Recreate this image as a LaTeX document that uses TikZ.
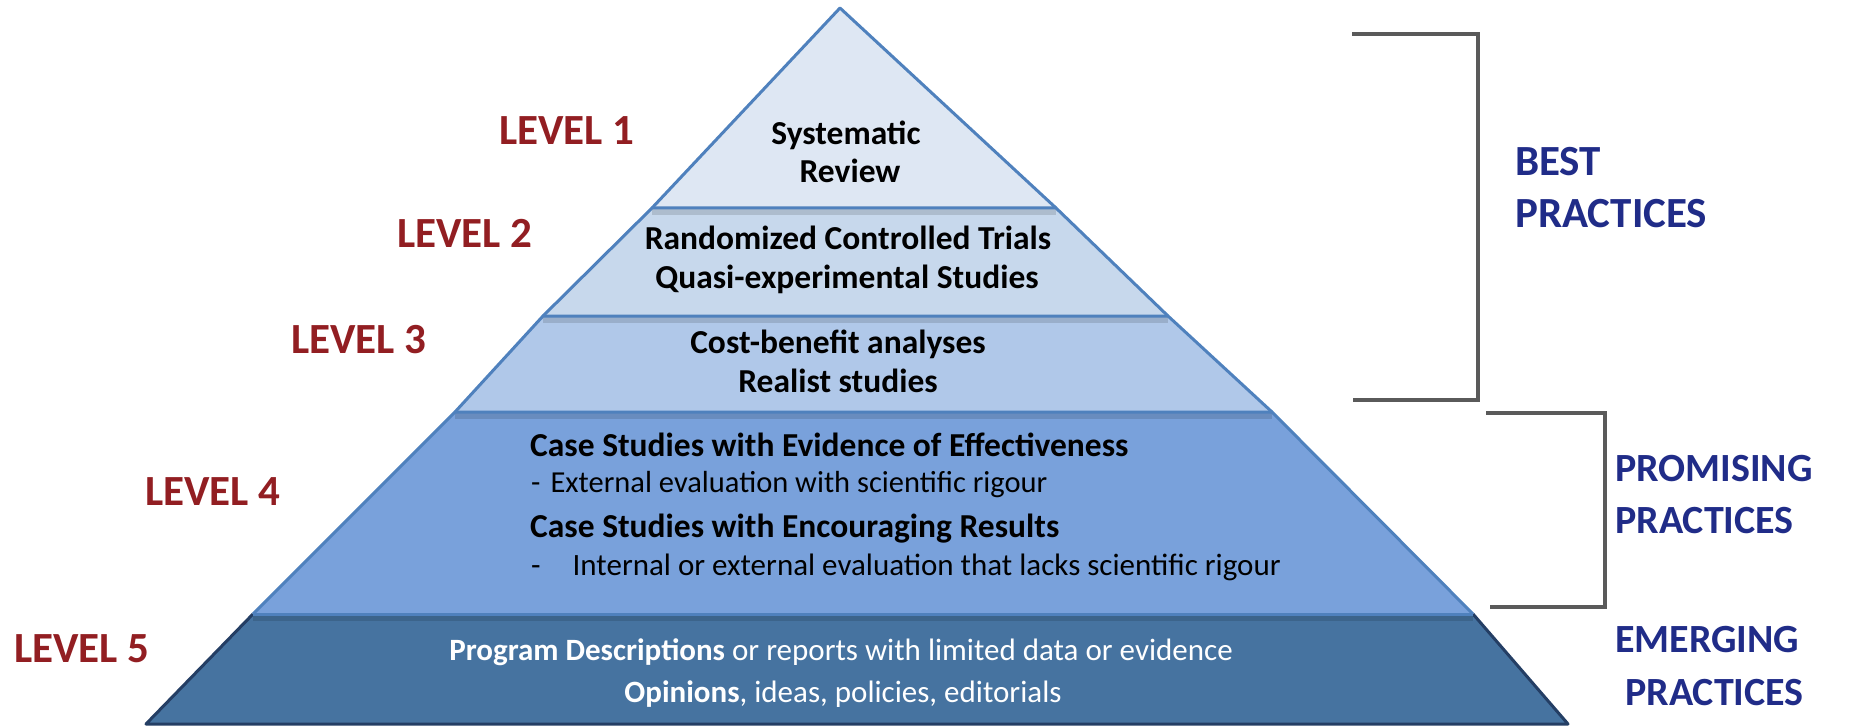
\documentclass[tikz,border=0pt]{standalone}
\usepackage{fontspec}
\setmainfont{Carlito}
\definecolor{lvred}{RGB}{146,30,34}
\definecolor{navy}{RGB}{32,44,136}
\definecolor{edge}{RGB}{79,129,189}
\definecolor{fillA}{RGB}{222,231,243}
\definecolor{fillB}{RGB}{199,216,236}
\definecolor{fillC}{RGB}{176,200,233}
\definecolor{fillD}{RGB}{121,161,219}
\definecolor{fillE}{RGB}{70,115,160}
\definecolor{edgeE}{RGB}{36,62,100}
\definecolor{brk}{RGB}{90,90,90}
\begin{document}
\begin{tikzpicture}[x=1pt,y=-1pt,
  lvl/.style={font=\fontsize{43}{50}\selectfont\bfseries, text=lvred, inner sep=0pt, anchor=base},
  prac/.style={font=\fontsize{40}{48}\selectfont\bfseries, text=navy, inner sep=0pt, anchor=base west},
  ptxt/.style={font=\fontsize{33.5}{40}\selectfont\bfseries, inner sep=0pt, anchor=base},
  ltxt/.style={font=\fontsize{30.5}{37}\selectfont, inner sep=0pt, anchor=base west},
  btxt/.style={font=\fontsize{33.5}{40}\selectfont\bfseries, inner sep=0pt, anchor=base west},
  wtxt/.style={font=\fontsize{31}{37}\selectfont, text=white, inner sep=0pt, anchor=base},
  layeredge/.style={draw=edge, line width=3pt, line join=round},
  shadow/.style={line width=6pt, black, opacity=0.13},
  bracket/.style={draw=brk, line width=4pt}
]
\useasboundingbox (0,0) rectangle (1860,727);
% corner coordinates
\coordinate (apex) at (840,8);
\coordinate (l1) at (652,208); \coordinate (r1) at (1056,208);
\coordinate (l2) at (543,316); \coordinate (r2) at (1168,316);
\coordinate (l3) at (455,412); \coordinate (r3) at (1272,412);
\coordinate (l4) at (253,614); \coordinate (r4) at (1473,614);
\coordinate (l5) at (146,724); \coordinate (r5) at (1568,724);
% fills
\fill[fillE] (l4) -- (r4) -- (r5) -- (l5) -- cycle;
\fill[fillD] (l3) -- (r3) -- (r4) -- (l4) -- cycle;
\fill[fillC] (l2) -- (r2) -- (r3) -- (l3) -- cycle;
\fill[fillB] (l1) -- (r1) -- (r2) -- (l2) -- cycle;
\fill[fillA] (apex) -- (r1) -- (l1) -- cycle;
% shadows under the layer tops
\begin{scope}
\clip (apex) -- (r1) -- (r2) -- (r3) -- (r4) -- (r5) -- (l5) -- (l4) -- (l3) -- (l2) -- (l1) -- cycle;
\draw[shadow] ([yshift=-4pt]l1) -- ([yshift=-4pt]r1);
\draw[shadow] ([yshift=-4pt]l2) -- ([yshift=-4pt]r2);
\draw[shadow] ([yshift=-4pt]l3) -- ([yshift=-4pt]r3);
\draw[shadow] ([yshift=-4pt]l4) -- ([yshift=-4pt]r4);
\end{scope}
% outlines
\draw[draw=edgeE, line width=3pt, line join=round] (r4) -- (r5) -- (l5) -- (l4);
\draw[layeredge] (l4) -- (r4);
\draw[layeredge] (r4) -- (r3) -- (l3) -- (l4);
\draw[layeredge] (r3) -- (r2) -- (l2) -- (l3);
\draw[layeredge] (r2) -- (r1) -- (l1) -- (l2);
\draw[layeredge] (l1) -- (apex) -- (r1);
% level labels
\node[lvl] (lv1) at (567,145) {LEVEL 1};
\node[lvl] (lv2) at (465,248) {LEVEL 2};
\node[lvl] (lv3) at (359,353) {LEVEL 3};
\node[lvl] (lv4) at (213,505) {LEVEL 4};
\node[lvl] (lv5) at (82,662) {LEVEL 5};
% pyramid texts
\node[ptxt] (t1a) at (846,145) {Systematic};
\node[ptxt] (t1b) at (850,183) {Review};
\node[ptxt] (t2a) at (848,250) {Randomized Controlled Trials};
\node[ptxt] (t2b) at (847,288) {Quasi-experimental Studies};
\node[ptxt] (t3a) at (838,353) {Cost-benefit analyses};
\node[ptxt] (t3b) at (838,392) {Realist studies};
\node[btxt] (t4a) at (530,456) {Case Studies with Evidence of Effectiveness};
\node[ltxt] (t4b) at (531,492) {-\hspace{10pt}External evaluation with scientific rigour};
\node[btxt] (t4c) at (530,537) {Case Studies with Encouraging Results};
\node[ltxt, font=\fontsize{31}{37}\selectfont] (t4d) at (531,575) {-\hspace{32pt}Internal or external evaluation that lacks scientific rigour};
\node[wtxt] (t5a) at (841,660) {\textbf{Program Descriptions} or reports with limited data or evidence};
\node[wtxt] (t5b) at (843,702) {\textbf{Opinions}, ideas, policies, editorials};
% brackets
\draw[bracket] (1352,34) -- (1478,34) -- (1478,400) -- (1353,400);
\draw[bracket] (1486,413) -- (1605,413) -- (1605,607) -- (1490,607);
% practice labels
\node[prac, font=\fontsize{43}{50}\selectfont\bfseries] (b1) at (1515,176) {BEST};
\node[prac, font=\fontsize{43}{50}\selectfont\bfseries] (b2) at (1515,228) {PRACTICES};
\node[prac] (p1) at (1615,481) {PROMISING};
\node[prac] (p2) at (1615,533) {PRACTICES};
\node[prac] (e1) at (1615,652) {EMERGING};
\node[prac] (e2) at (1625,705) {PRACTICES};
\end{tikzpicture}
\end{document}
